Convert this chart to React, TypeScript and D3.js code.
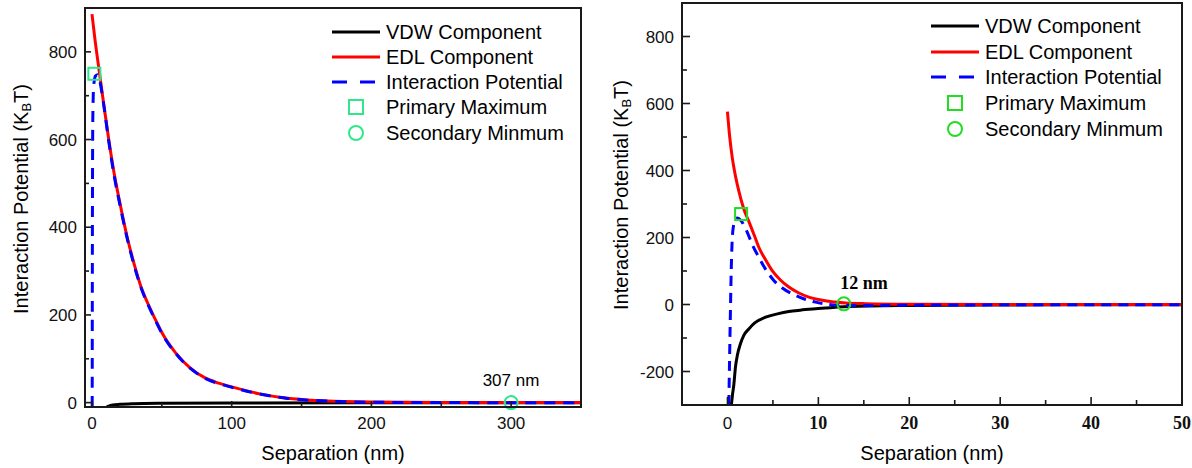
import React from 'react';
import * as d3 from 'd3';

type Pt = [number, number];

const legendLabels = ['VDW Component', 'EDL Component', 'Interaction Potential', 'Primary Maximum', 'Secondary Minmum'];
const yTitleMain = 'Interaction Potential (K';
const yTitleSub = 'B';
const yTitleEnd = 'T)';
const xTitle = 'Separation (nm)';

// ---- Left panel data ----
const leftEdl: Pt[] = [
  [0, 886], [2, 832], [5, 760], [8, 690], [12, 600], [16, 520], [20, 455], [25, 380], [30, 318],
  [35, 265], [40, 226], [45, 192], [50, 160], [60, 113], [70, 80], [80, 58], [90, 45], [100, 36],
  [120, 20], [140, 10], [160, 5], [180, 2.5], [200, 1.2], [250, 0.3], [300, 0.1], [350, 0],
];
const leftVdw: Pt[] = [
  [10.5, -10], [12, -8], [15, -5.5], [20, -4], [30, -2.6], [50, -1.6], [100, -0.8], [200, -0.4], [350, -0.2],
];
const leftTotal: Pt[] = [
  [0.15, -10], [0.3, 400], [0.6, 650], [1.2, 722], [2.5, 745], [4, 748], [5.5, 735], [8, 688], [12, 596],
  [16, 515], [20, 451], [25, 377], [30, 315], [35, 263], [40, 224], [45, 190], [50, 158], [60, 112],
  [70, 79], [80, 57], [90, 44], [100, 35], [120, 19.5], [140, 9.6], [160, 4.7], [180, 2.2], [200, 0.9],
  [250, 0.1], [300, -0.1], [350, -0.2],
];
const leftPrimaryMax: Pt = [1.7, 750];
const leftSecondaryMin: Pt = [300, 0];
const leftAnnotation = '307 nm';
const leftXMajor = [0, 100, 200, 300];
const leftXMinor = [50, 150, 250];
const leftYMajor = [0, 200, 400, 600, 800];
const leftYMinor = [100, 300, 500, 700];

// ---- Right panel data ----
const rightEdl: Pt[] = [
  [0, 576], [0.25, 500], [0.52, 440], [0.8, 395], [1.24, 340], [1.8, 285], [2.35, 248], [3, 203],
  [3.45, 171], [4.2, 133], [4.92, 101], [5.8, 74], [6.75, 52], [7.8, 35], [8.95, 22], [10, 15],
  [11.5, 8], [13, 4.5], [15.2, 2.5], [20, 1], [30, 0.3], [50, 0],
];
const rightVdw: Pt[] = [
  [0.43, -300], [0.55, -270], [0.7, -240], [0.88, -187], [1.1, -150], [1.43, -117], [1.8, -92],
  [2.35, -73], [3, -55], [4.2, -38], [5.5, -28], [6.75, -21], [8, -17], [9.7, -13], [13.4, -6],
  [20, -3], [30, -1.5], [40, -1], [50, -0.7],
];
const rightTotal: Pt[] = [
  [0.15, -300], [0.3, -60], [0.45, 140], [0.6, 222], [0.85, 252], [1.1, 258], [1.5, 250], [2.17, 216],
  [2.8, 175], [3.45, 141], [4.2, 105], [5.1, 72], [6, 50], [7.1, 32], [8.3, 18], [9.7, 7], [11, 1],
  [12.3, -2.5], [14, -3], [20, -2], [30, -1], [50, -0.5],
];
const rightPrimaryMax: Pt = [1.5, 270];
const rightSecondaryMin: Pt = [12.8, 2];
const rightAnnotation = '12 nm';
const rightXMajor = [0, 10, 20, 30, 40, 50];
const rightXMinor = [5, 15, 25, 35, 45];
const rightYMajor = [-200, 0, 200, 400, 600, 800];
const rightYMinor = [-100, 100, 300, 500, 700];

const SANS = '"Liberation Sans", Arial, sans-serif';
const SERIF = '"Liberation Serif", "Times New Roman", serif';

interface PanelProps {
  id: string;
  frame: { x0: number; y0: number; x1: number; y1: number };
  xDomain: [number, number];
  yDomain: [number, number];
  edl: Pt[];
  vdw: Pt[];
  total: Pt[];
  pmax: Pt;
  smin: Pt;
  markerColor: string;
  annotation: string;
  annotPos: [number, number];
  annotSerif: boolean;
  xMajor: number[];
  xMinor: number[];
  yMajor: number[];
  yMinor: number[];
  serifXTicks: boolean;
  yTitlePos: [number, number];
  legendX: number;
  legendY: number[];
  majorLen: number;
  minorLen: number;
  dash: string;
}

function Panel(p: PanelProps) {
  const { frame } = p;
  const x = d3.scaleLinear().domain(p.xDomain).range([frame.x0, frame.x1]);
  const y = d3.scaleLinear().domain(p.yDomain).range([frame.y1, frame.y0]);
  const line = d3
    .line<Pt>()
    .x((d) => x(d[0]))
    .y((d) => y(d[1]))
    .curve(d3.curveMonotoneX);
  const clipId = `clip-${p.id}`;
  const axisColor = '#1a1a1a';
  const cx = (frame.x0 + frame.x1) / 2;
  const lx = p.legendX;
  return (
    <g>
      <defs>
        <clipPath id={clipId}>
          <rect x={frame.x0} y={frame.y0} width={frame.x1 - frame.x0} height={frame.y1 - frame.y0} />
        </clipPath>
      </defs>
      <g clipPath={`url(#${clipId})`}>
        <path d={line(p.vdw) || ''} fill="none" stroke="#000" strokeWidth={3} />
        <path d={line(p.edl) || ''} fill="none" stroke="#ff0000" strokeWidth={3} />
        <path d={line(p.total) || ''} fill="none" stroke="#0000ff" strokeWidth={3} strokeDasharray={p.dash} />
      </g>
      <rect x={x(p.pmax[0]) - 6} y={y(p.pmax[1]) - 6} width={12} height={12} fill="none" stroke={p.markerColor} strokeWidth={2} />
      <circle cx={x(p.smin[0])} cy={y(p.smin[1])} r={6.5} fill="none" stroke={p.markerColor} strokeWidth={2} />
      <rect
        x={frame.x0}
        y={frame.y0}
        width={frame.x1 - frame.x0}
        height={frame.y1 - frame.y0}
        fill="none"
        stroke={axisColor}
        strokeWidth={2}
      />
      {p.xMajor.map((t) => (
        <line key={`xM${t}`} x1={x(t)} x2={x(t)} y1={frame.y1} y2={frame.y1 - p.majorLen} stroke={axisColor} strokeWidth={1.6} />
      ))}
      {p.xMinor.map((t) => (
        <line key={`xm${t}`} x1={x(t)} x2={x(t)} y1={frame.y1} y2={frame.y1 - p.minorLen} stroke={axisColor} strokeWidth={1.6} />
      ))}
      {p.yMajor.map((t) => (
        <line key={`yM${t}`} x1={frame.x0} x2={frame.x0 + p.majorLen} y1={y(t)} y2={y(t)} stroke={axisColor} strokeWidth={1.6} />
      ))}
      {p.yMinor.map((t) => (
        <line key={`ym${t}`} x1={frame.x0} x2={frame.x0 + p.minorLen} y1={y(t)} y2={y(t)} stroke={axisColor} strokeWidth={1.6} />
      ))}
      {p.xMajor.map((t) => {
        const serif = p.serifXTicks && t !== 0;
        return (
          <text
            key={`xl${t}`}
            x={x(t)}
            y={429}
            textAnchor="middle"
            fontFamily={serif ? SERIF : SANS}
            fontWeight={serif ? 'bold' : 'normal'}
            fontSize={serif ? 18 : 17}
            fill="#111"
          >
            {String(t)}
          </text>
        );
      })}
      {p.yMajor.map((t) => (
        <text key={`yl${t}`} x={frame.x0 - 8} y={y(t) + 6} textAnchor="end" fontFamily={SANS} fontSize={17} fill="#111">
          {String(t)}
        </text>
      ))}
      <text x={cx} y={460} textAnchor="middle" fontFamily={SANS} fontSize={20} fill="#000">
        {xTitle}
      </text>
      <text
        transform={`translate(${p.yTitlePos[0]},${p.yTitlePos[1]}) rotate(-90)`}
        textAnchor="middle"
        dominantBaseline="central"
        fontFamily={SANS}
        fontSize={20}
        fill="#000"
      >
        {yTitleMain}
        <tspan fontSize={13} dy={5}>
          {yTitleSub}
        </tspan>
        <tspan dy={-5}>{yTitleEnd}</tspan>
      </text>
      <text
        x={p.annotPos[0]}
        y={p.annotPos[1]}
        textAnchor="middle"
        fontFamily={p.annotSerif ? SERIF : SANS}
        fontWeight={p.annotSerif ? 'bold' : 'normal'}
        fontSize={p.annotSerif ? 18 : 17}
        fill="#000"
      >
        {p.annotation}
      </text>
      {/* Legend */}
      <line x1={lx} x2={lx + 48} y1={p.legendY[0]} y2={p.legendY[0]} stroke="#000" strokeWidth={3} />
      <line x1={lx} x2={lx + 48} y1={p.legendY[1]} y2={p.legendY[1]} stroke="#ff0000" strokeWidth={3} />
      <line x1={lx} x2={lx + 48} y1={p.legendY[2]} y2={p.legendY[2]} stroke="#0000ff" strokeWidth={3} strokeDasharray="15 13" />
      <rect x={lx + 24 - 7} y={p.legendY[3] - 7} width={14} height={14} fill="none" stroke={p.markerColor} strokeWidth={2} />
      <circle cx={lx + 24} cy={p.legendY[4]} r={7} fill="none" stroke={p.markerColor} strokeWidth={2} />
      {legendLabels.map((lab, i) => (
        <text key={lab} x={lx + 54} y={p.legendY[i] + 7} fontFamily={SANS} fontSize={20} fill="#000">
          {lab}
        </text>
      ))}
    </g>
  );
}

export default function App() {
  return (
    <svg
      width={1192}
      height={468}
      viewBox="0 0 1192 468"
      style={{ position: 'absolute', left: 0, top: 0, background: '#fff' }}
    >
      <rect x={0} y={0} width={1192} height={468} fill="#fff" />
      <Panel
        id="left"
        frame={{ x0: 85, y0: 8, x1: 581, y1: 407 }}
        xDomain={[-5, 350]}
        yDomain={[-10, 900]}
        edl={leftEdl}
        vdw={leftVdw}
        total={leftTotal}
        pmax={leftPrimaryMax}
        smin={leftSecondaryMin}
        markerColor="#2ee88a"
        annotation={leftAnnotation}
        annotPos={[511, 386]}
        annotSerif={false}
        xMajor={leftXMajor}
        xMinor={leftXMinor}
        yMajor={leftYMajor}
        yMinor={leftYMinor}
        serifXTicks={false}
        yTitlePos={[21, 199]}
        legendX={332}
        legendY={[32, 57, 82, 107, 133]}
        majorLen={6}
        minorLen={4}
        dash="11 8"
      />
      <Panel
        id="right"
        frame={{ x0: 682, y0: 3, x1: 1182, y1: 405 }}
        xDomain={[-5, 50]}
        yDomain={[-300, 900]}
        edl={rightEdl}
        vdw={rightVdw}
        total={rightTotal}
        pmax={rightPrimaryMax}
        smin={rightSecondaryMin}
        markerColor="#22dd22"
        annotation={rightAnnotation}
        annotPos={[864, 289]}
        annotSerif={true}
        xMajor={rightXMajor}
        xMinor={rightXMinor}
        yMajor={rightYMajor}
        yMinor={rightYMinor}
        serifXTicks={true}
        yTitlePos={[621, 195]}
        legendX={931}
        legendY={[26, 52, 77, 103, 129]}
        majorLen={8}
        minorLen={5}
        dash="10 7"
      />
    </svg>
  );
}
